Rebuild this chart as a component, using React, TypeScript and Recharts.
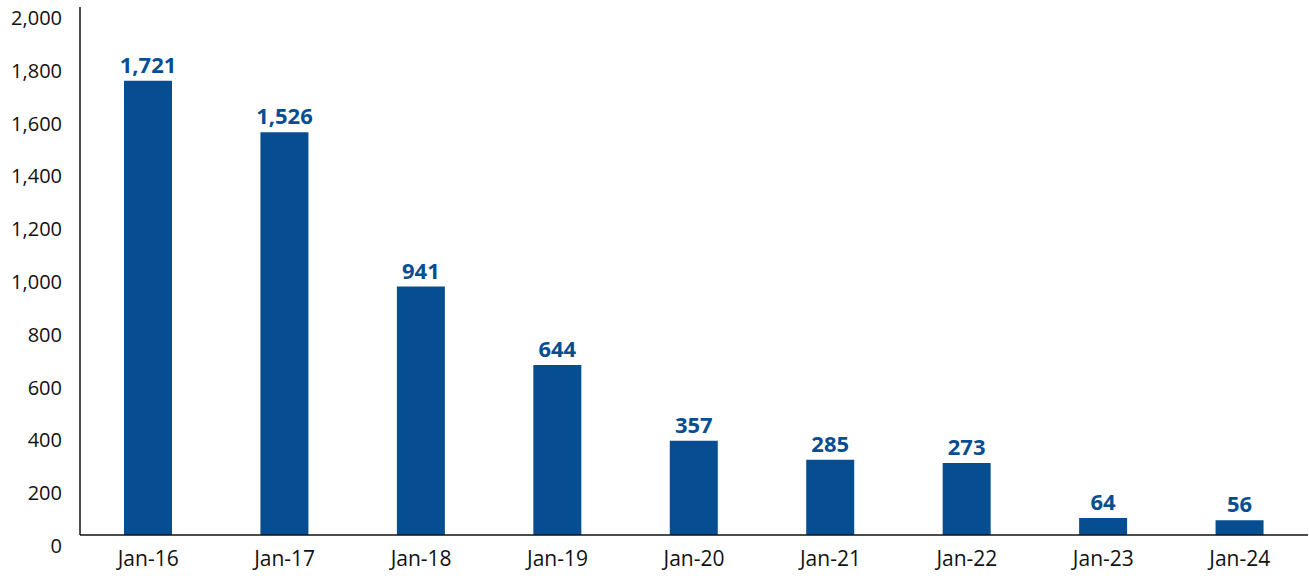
import { BarChart, Bar, XAxis, YAxis, LabelList } from 'recharts'

document.body.style.margin = '0'

const months = ['Jan-16', 'Jan-17', 'Jan-18', 'Jan-19', 'Jan-20', 'Jan-21', 'Jan-22', 'Jan-23', 'Jan-24']
const counts = [1721, 1526, 941, 644, 357, 285, 273, 64, 56]
const yTicks = [0, 200, 400, 600, 800, 1000, 1200, 1400, 1600, 1800, 2000]

const data = months.map((month, i) => ({ month, count: counts[i] }))

const FONT = '"Open Sans", "Noto Sans", sans-serif'
const BLUE = '#064e91'

function YTick({ x, y, payload }: any) {
  return (
    <text x={x - 10} y={y + 11} dy="0.35em" textAnchor="end" fill="#111" fontSize={20} fontFamily={FONT}>
      {payload.value.toLocaleString('en-US')}
    </text>
  )
}

function XTick({ x, y, payload }: any) {
  return (
    <text x={x} y={y + 16} dy="0.35em" textAnchor="middle" fill="#111" fontSize={21} fontFamily={FONT}>
      {payload.value}
    </text>
  )
}

export default function App() {
  return (
    <BarChart width={1309} height={576} data={data} margin={{ top: 7, right: 1, left: 0, bottom: 0 }}>
      <XAxis
        dataKey="month"
        height={41}
        axisLine={{ stroke: '#111', strokeWidth: 1.5 }}
        tickLine={false}
        tick={<XTick />}
        interval={0}
      />
      <YAxis
        width={80}
        domain={[0, 2000]}
        ticks={yTicks}
        axisLine={{ stroke: '#111', strokeWidth: 1.5 }}
        tickLine={false}
        tick={<YTick />}
        interval={0}
      />
      <Bar dataKey="count" fill={BLUE} barSize={48} isAnimationActive={false}>
        <LabelList
          dataKey="count"
          position="top"
          offset={8}
          fill={BLUE}
          fontSize={22}
          fontWeight="bold"
          fontFamily={FONT}
          formatter={(v: any) => Number(v).toLocaleString('en-US')}
        />
      </Bar>
    </BarChart>
  )
}
